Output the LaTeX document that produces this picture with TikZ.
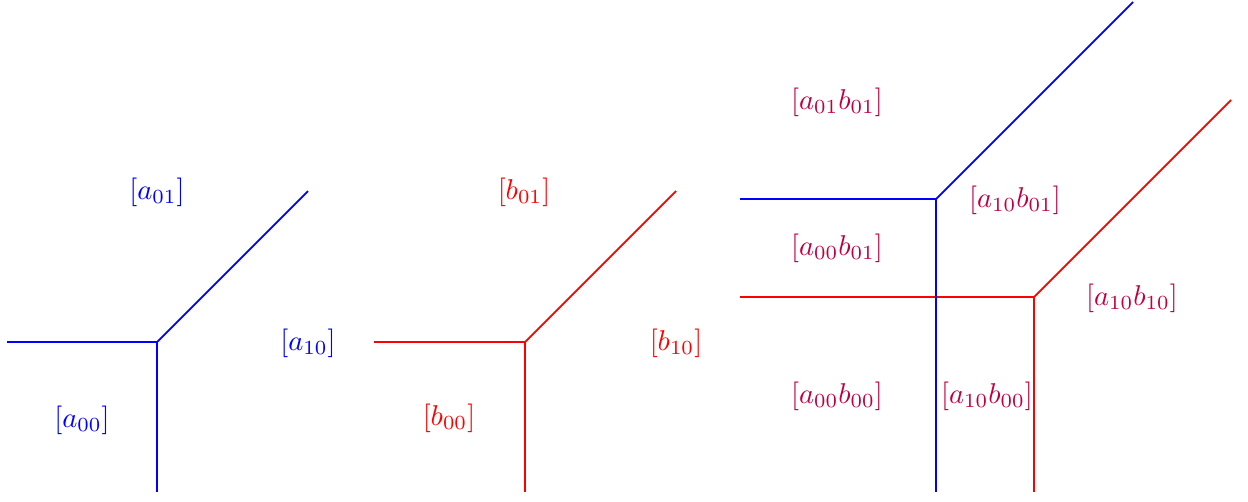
\documentclass[tikz,border=0pt]{standalone}
\usepackage{tikz}
\newcommand{\sclab}[1]{\scalebox{1.63}{#1}}
\begin{document}
\begin{tikzpicture}[x=0.02cm,y=-0.02cm,
  bl/.style={draw=blue,line width=1pt},
  rd/.style={draw=red,line width=1pt},
  lab/.style={inner sep=0pt},
  lb/.style={lab,text=blue},
  lr/.style={lab,text=red},
  lp/.style={lab,text=purple}]
\useasboundingbox (0,0) rectangle (1248,501);
% diagram 1
\coordinate (v1) at (157,342);
\coordinate (l1) at (7,342);
\coordinate (d1) at (157,492);
\coordinate (u1) at (308,191);
\draw[bl] (l1) -- (v1) -- (d1);
\draw[bl] (v1) -- (u1);
\node[lb] (a01) at (157,192) {\sclab{$[a_{01}]$}};
\node[lb] (a10) at (308,343) {\sclab{$[a_{10}]$}};
\node[lb] (a00) at (82,420) {\sclab{$[a_{00}]$}};
% diagram 2
\coordinate (v2) at (525,342);
\coordinate (l2) at (374,342);
\coordinate (d2) at (525,492);
\coordinate (u2) at (676,191);
\draw[rd] (l2) -- (v2) -- (d2);
\draw[rd] (v2) -- (u2);
\node[lr] (b01) at (524,192) {\sclab{$[b_{01}]$}};
\node[lr] (b10) at (676,343) {\sclab{$[b_{10}]$}};
\node[lr] (b00) at (449,418) {\sclab{$[b_{00}]$}};
% diagram 3
\coordinate (v3) at (936,199);
\coordinate (l3) at (740,199);
\coordinate (d3) at (936,492);
\coordinate (u3) at (1133,2);
\coordinate (v4) at (1034,297);
\coordinate (l4) at (740,297);
\coordinate (d4) at (1034,492);
\coordinate (u4) at (1231,100);
\draw[rd] (l4) -- (v4) -- (d4);
\draw[rd] (v4) -- (u4);
\draw[bl] (l3) -- (v3) -- (d3);
\draw[bl] (v3) -- (u3);
\node[lp] (p1) at (837,102) {\sclab{$[a_{01}b_{01}]$}};
\node[lp] (p2) at (1015,200) {\sclab{$[a_{10}b_{01}]$}};
\node[lp] (p3) at (837,248) {\sclab{$[a_{00}b_{01}]$}};
\node[lp] (p4) at (1132,298) {\sclab{$[a_{10}b_{10}]$}};
\node[lp] (p5) at (837,396) {\sclab{$[a_{00}b_{00}]$}};
\node[lp] (p6) at (987,396) {\sclab{$[a_{10}b_{00}]$}};
\end{tikzpicture}
\end{document}
